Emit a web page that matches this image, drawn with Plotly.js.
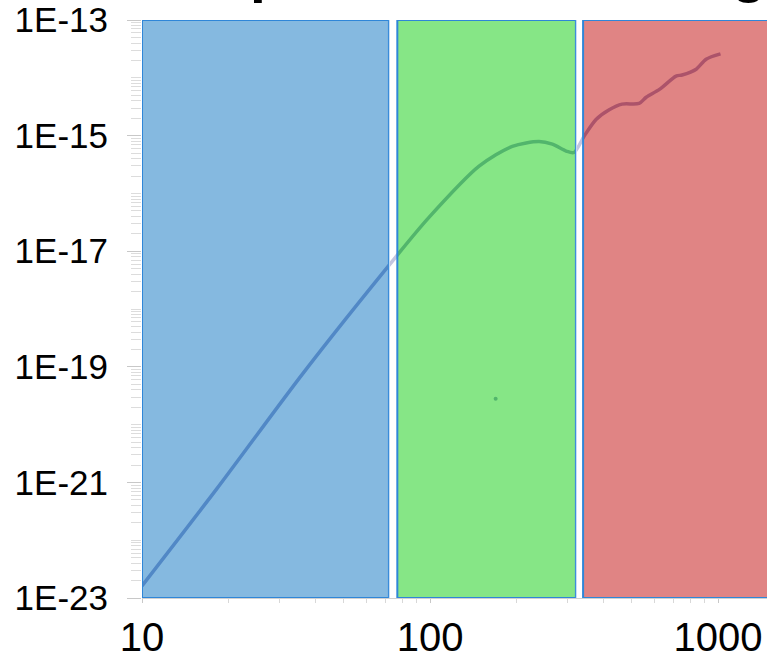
<!DOCTYPE html>
<html>
<head>
<meta charset="utf-8">
<script src="https://cdn.plot.ly/plotly-3.0.1.min.js"></script>
<style>html,body{margin:0;padding:0;background:#fff;}#chart{width:767px;height:653px;}</style>
</head>
<body>
<div id="chart"></div>
<script>
// ---- data ----
const freq = [10, 18.2, 36.5, 76, 99, 148, 193, 239, 266, 297, 316, 343, 377, 419, 464, 532, 563, 626, 715, 750, 840, 909, 1020];
const value = [1.62e-23, 7.8e-22, 8.1e-20, 7.9e-18, 3.8e-17, 2.95e-16, 6.5e-16, 7.9e-16, 7.1e-16, 5.4e-16, 5.1e-16, 9.8e-16, 1.9e-15, 2.8e-15, 3.5e-15, 3.6e-15, 4.6e-15, 6.3e-15, 1.07e-14, 1.12e-14, 1.41e-14, 2.1e-14, 2.6e-14];
const strayX = [169];
const strayY = [2.8e-20];
const regionStart = [10, 77, 340];
const regionEnd = [72, 321, 1600];
const regionFill = ['rgba(92,162,214,0.75)', 'rgba(94,222,94,0.75)', 'rgba(214,91,91,0.75)'];
const yTickVals = [1e-23, 1e-21, 1e-19, 1e-17, 1e-15, 1e-13];
const yTickText = ['1E-23', '1E-21', '1E-19', '1E-17', '1E-15', '1E-13'];
const xTickVals = [10, 100, 1000];
const xTickText = ['10', '100', '1000'];
const titleText = 'Spectral Noise Range';

const lineColor = 'rgb(50,60,150)';

const shapes = [];
for (let i = 0; i < regionStart.length; i++) {
  shapes.push({
    type: 'rect', xref: 'x', yref: 'y', layer: 'above',
    x0: regionStart[i], x1: regionEnd[i], y0: 1e-23, y1: 1e-13,
    fillcolor: regionFill[i],
    line: {color: '#2f86d8', width: 2}
  });
  if (i < regionStart.length - 1) {
    shapes.push({
      type: 'rect', xref: 'x', yref: 'y', layer: 'above',
      x0: regionEnd[i], x1: regionStart[i + 1], y0: 1e-23, y1: 1e-13,
      fillcolor: 'rgba(255,255,255,0.7)', line: {width: 0}
    });
  }
}

const traces = [
  {x: freq, y: value, type: 'scatter', mode: 'lines',
   line: {color: lineColor, width: 3.5, shape: 'spline', smoothing: 0.8},
   hoverinfo: 'skip', showlegend: false},
  {x: strayX, y: strayY, type: 'scatter', mode: 'markers',
   marker: {color: lineColor, size: 4}, showlegend: false}
];

const layout = {
  width: 767, height: 653,
  margin: {l: 142, r: 0, t: 20, b: 55},
  paper_bgcolor: '#fff', plot_bgcolor: '#fff',
  showlegend: false,
  font: {family: 'Arial, "Liberation Sans", sans-serif', color: '#000'},
  xaxis: {
    type: 'log', range: [1, 3.17],
    tickvals: xTickVals, ticktext: xTickText,
    tickfont: {size: 40, color: '#000'},
    ticks: 'outside', ticklen: 4, tickcolor: '#c8c8c8', tickwidth: 1,
    ticklabelstandoff: 0,
    minor: {ticks: 'outside', ticklen: 4, tickcolor: '#d8d8d8', showgrid: false, dtick: 'D1'},
    showgrid: false, zeroline: false,
    showline: true, linecolor: '#d0d0d0', linewidth: 1
  },
  yaxis: {
    type: 'log', range: [-23, -13],
    tickvals: yTickVals, ticktext: yTickText,
    tickfont: {size: 35, color: '#000'},
    ticks: 'outside', ticklen: 14, tickcolor: '#c8c8c8', tickwidth: 1,
    ticklabelstandoff: 12,
    minor: {ticks: 'outside', ticklen: 10, tickcolor: '#dcdcdc', showgrid: false, dtick: 'D1'},
    showgrid: false, zeroline: false, showline: false
  },
  shapes: shapes,
  annotations: [{
    text: '<b>' + titleText + '</b>', xref: 'paper', yref: 'paper',
    x: 0.109, y: 1, xanchor: 'left', yanchor: 'bottom', yshift: 15,
    showarrow: false, font: {size: 57, color: '#000', family: 'Arial, "Liberation Sans", sans-serif'}
  }]
};

Plotly.newPlot('chart', traces, layout, {displayModeBar: false, staticPlot: true});
</script>
</body>
</html>
